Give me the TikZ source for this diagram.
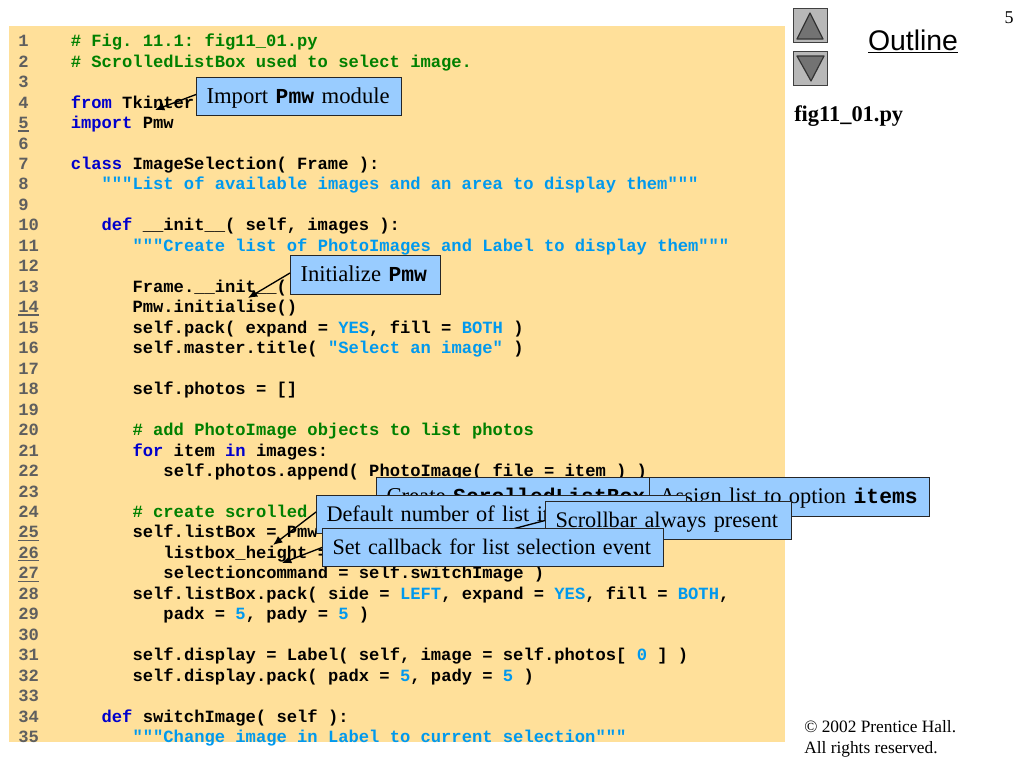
\documentclass[tikz,border=0pt]{standalone}
\usepackage{fontspec}
\setmainfont{Liberation Serif}
\setsansfont{Liberation Sans}
\setmonofont{Liberation Mono}
\usetikzlibrary{arrows.meta}
\definecolor{codebg}{HTML}{FFE09A}
\definecolor{calloutblue}{HTML}{99CCFF}
\definecolor{kwblue}{HTML}{0000CC}
\definecolor{cmtgreen}{HTML}{008000}
\definecolor{litblue}{HTML}{0099EE}
\definecolor{numgray}{HTML}{5F5F5F}
\newcommand{\kwd}[1]{\textcolor{kwblue}{#1}}
\newcommand{\cmt}[1]{\textcolor{cmtgreen}{#1}}
\newcommand{\lit}[1]{\textcolor{litblue}{#1}}
\newcommand{\cod}[1]{{\fontsize{16}{20}\ttfamily\bfseries #1}}
\newcommand{\codeline}[3]{
  \node[codetext] (L#1) at ({70.5+30.9*#2},{20.47*#1+26.2}) {#3};
}
\tikzset{
  codetext/.style   = {anchor=base west, inner sep=0pt, font=\fontsize{12.86}{15}\ttfamily\bfseries},
  numtext/.style    = {codetext, text=numgray, inner ysep=1.5pt},
  numrule/.style    = {numgray, line width=0.9pt},
  callout/.style    = {draw=black!85, fill=calloutblue, line width=0.75pt, anchor=west,
                       inner xsep=7.5pt, inner ysep=0pt, minimum height=29pt,
                       text height=13pt, text depth=3pt, align=left, text width=#1,
                       font=\fontsize{17}{20}\selectfont},
  pointer/.style    = {-{Latex[length=7pt,width=6pt]}, black, line width=1pt},
  navbtn/.style     = {draw=black!75, fill=black!28, line width=0.9pt, minimum size=26pt, inner sep=0pt},
  navtri/.style     = {draw=black!80, fill=black!55, line width=0.9pt, line join=round}
}

\begin{document}
\begin{tikzpicture}[x=0.75pt,y=-0.75pt]
	\useasboundingbox (0,0) rectangle (1024,768);
	\fill[codebg] (9,26) rectangle (785,742);
	\foreach \n in {1,...,35}{
		\node[numtext] (N\n) at (18,{20.47*\n+26.2}) {\n};
	}
	\foreach \n in {5,14,25,26,27}{
		\draw[numrule] (N\n.south west) -- (N\n.south east);
	}
	\codeline{1}{0}{\cmt{\# Fig. 11.1: fig11\_01.py}}
	\codeline{2}{0}{\cmt{\# ScrolledListBox used to select image.}}
	\codeline{4}{0}{\kwd{from} Tkinter}
	\codeline{5}{0}{\kwd{import} Pmw}
	\codeline{7}{0}{\kwd{class} ImageSelection( Frame ):}
	\codeline{8}{1}{\lit{"""List of available images and an area to display them"""}}
	\codeline{10}{1}{\kwd{def} \_\_init\_\_( self, images ):}
	\codeline{11}{2}{\lit{"""Create list of PhotoImages and Label to display them"""}}
	\codeline{13}{2}{Frame.\_\_init\_\_(}
	\codeline{14}{2}{Pmw.initialise()}
	\codeline{15}{2}{self.pack( expand = \lit{YES}, fill = \lit{BOTH} )}
	\codeline{16}{2}{self.master.title( \lit{"Select an image"} )}
	\codeline{18}{2}{self.photos = []}
	\codeline{20}{2}{\cmt{\# add PhotoImage objects to list photos}}
	\codeline{21}{2}{\kwd{for} item \kwd{in} images:}
	\codeline{22}{3}{self.photos.append( PhotoImage( file = item ) )}
	\codeline{24}{2}{\cmt{\# create scrolled}}
	\codeline{25}{2}{self.listBox = Pmw}
	\codeline{26}{3}{listbox\_height =}
	\codeline{27}{3}{selectioncommand = self.switchImage )}
	\codeline{28}{2}{self.listBox.pack( side = \lit{LEFT}, expand = \lit{YES}, fill = \lit{BOTH},}
	\codeline{29}{3}{padx = \lit{5}, pady = \lit{5} )}
	\codeline{31}{2}{self.display = Label( self, image = self.photos[ \lit{0} ] )}
	\codeline{32}{2}{self.display.pack( padx = \lit{5}, pady = \lit{5} )}
	\codeline{34}{1}{\kwd{def} switchImage( self ):}
	\codeline{35}{2}{\lit{"""Change image in Label to current selection"""}}
	\node[navbtn] (btnup) at (810.5,25.5) {};
	\node[navbtn] (btndown) at (810.5,68.5) {};
	\draw[navtri] (810,13) -- (797,39) -- (823,39) -- cycle;
	\draw[navtri] (811,81) -- (797,56) -- (824,56) -- cycle;
	\node[font=\sffamily\fontsize{21.3}{24}\selectfont, inner sep=0pt] (outline) at (913,41.5) {\underline{Outline}};
	\node[font=\fontsize{13.5}{16}\selectfont, inner sep=0pt] (page) at (1009,18) {5};
	\node[anchor=base west, inner sep=0pt, font=\fontsize{16.8}{20}\bfseries] (fname) at (794,121) {fig11\_01.py};
	\node[anchor=west, inner sep=0pt, align=left, font=\fontsize{13}{16}\selectfont] (rights) at (804,739) {\textcopyright{} 2002 Prentice Hall.\\All rights reserved.};
	\coordinate (importtip) at (155,110);
	\node[callout=138.75pt] (import) at (196,96.5) {\mbox{Import \cod{Pmw} module}};
	\draw[pointer] (import.west) ++(0,-2) -- (importtip);
	\coordinate (inittip) at (248,298);
	\node[callout=97.5pt] (init) at (290,275) {\mbox{Initialize \cod{Pmw}}};
	\draw[pointer] (init.west) ++(0,-2) -- (inittip);
	\node[callout=198pt] (create) at (376,497) {\mbox{Create \cod{ScrolledListBox}}};
	\node[callout=195pt, font=\fontsize{16.8}{20}\selectfont] (assign) at (649,497) {\mbox{Assign list to option \cod{items}}};
	\coordinate (defaulttip) at (273,545);
	\node[callout=262.5pt, font=\fontsize{16.7}{20}\selectfont] (default) at (316,514.5) {\mbox{Default number of list items}};
	\draw[pointer] (default.west) ++(0,-2.5) -- (defaulttip);
	\coordinate (scrolltip) at (440,548);
	\node[callout=169.5pt, font=\fontsize{16.7}{20}\selectfont] (scroll) at (545,520.5) {\mbox{Scrollbar always present}};
	\draw[pointer] (scroll.west) -- (scrolltip);
	\coordinate (setcbtip) at (282,563);
	\node[callout=240.75pt, font=\fontsize{16.6}{20}\selectfont] (setcb) at (322,547.5) {\mbox{Set callback for list selection event}};
	\draw[pointer] (setcb.west) -- (setcbtip);
\end{tikzpicture}
\end{document}
